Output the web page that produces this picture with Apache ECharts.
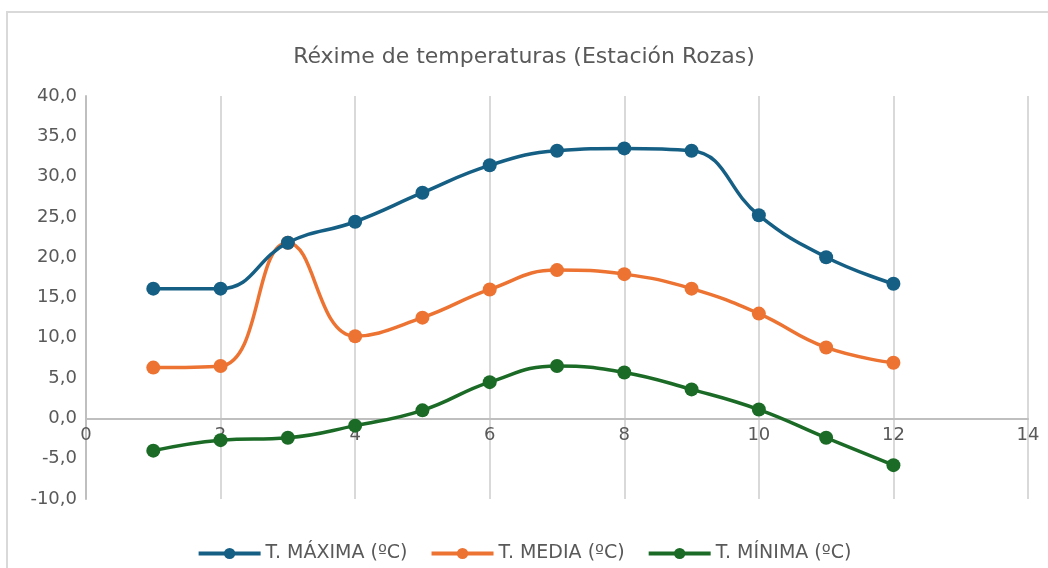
<!DOCTYPE html>
<html>
<head>
<meta charset="utf-8">
<script src="https://cdn.jsdelivr.net/npm/echarts@6/dist/echarts.min.js"></script>
<style>
  html, body { margin: 0; padding: 0; background: #fff; }
  #chart { width: 1048px; height: 568px; }
</style>
</head>
<body>
<div id="chart"></div>
<script>
// mes (1..12) e temperaturas
const meses = [1, 2, 3, 4, 5, 6, 7, 8, 9, 10, 11, 12];
const tMaxima = [16.1, 16.1, 21.8, 24.4, 28.0, 31.4, 33.2, 33.5, 33.2, 25.2, 20.0, 16.7];
const tMedia = [6.3, 6.5, 21.8, 10.2, 12.5, 16.0, 18.4, 17.9, 16.1, 13.0, 8.8, 6.9];
const tMinima = [-4.0, -2.7, -2.4, -0.9, 1.0, 4.5, 6.5, 5.7, 3.6, 1.1, -2.4, -5.8];
const nomes = ['T. MÁXIMA (ºC)', 'T. MEDIA (ºC)', 'T. MÍNIMA (ºC)'];
const cores = ['#155f85', '#ec7332', '#1b6b27'];

const fonte = '"DejaVu Sans", sans-serif';
const chart = echarts.init(document.getElementById('chart'));

// grid: top 96, bottom 499 -> o eixo X vai sobre o 0 (y -10..40)
const gridTop = 96, gridBottom = 69;
const altGrid = 568 - gridTop - gridBottom;
const offsetZero = -altGrid * 10 / 50;

function pares(vals) {
  return meses.map((m, i) => [m, vals[i]]);
}

function serie(i, vals) {
  return {
    name: nomes[i],
    type: 'line',
    smooth: 0.45,
    data: pares(vals),
    symbol: 'circle',
    symbolSize: 14,
    lineStyle: { width: 3.5, color: cores[i] },
    itemStyle: { color: cores[i] },
    z: 3 - i
  };
}

const option = {
  backgroundColor: '#fff',
  color: cores,
  title: {
    text: 'Réxime de temperaturas (Estación Rozas)',
    left: 'center',
    top: 41,
    textStyle: { fontFamily: fonte, fontSize: 22, fontWeight: 'normal', color: '#595959' }
  },
  legend: {
    bottom: 0,
    left: 'center',
    itemWidth: 62,
    itemHeight: 14,
    itemGap: 22,
    lineStyle: { width: 4 },
    textStyle: { fontFamily: fonte, fontSize: 19, color: '#595959' },
    data: nomes
  },
  grid: { left: 86, right: 20, top: gridTop, bottom: gridBottom, containLabel: false },
  xAxis: {
    type: 'value',
    min: 0,
    max: 14,
    interval: 2,
    offset: offsetZero,
    axisLine: { onZero: false, lineStyle: { color: '#bfbfbf', width: 2 } },
    axisTick: { show: false },
    axisLabel: { fontFamily: fonte, fontSize: 18, color: '#595959', margin: 8 },
    splitLine: { show: true, lineStyle: { color: '#d9d9d9', width: 2 } }
  },
  yAxis: {
    type: 'value',
    min: -10,
    max: 40,
    interval: 5,
    axisLine: { show: true, lineStyle: { color: '#bfbfbf', width: 2 } },
    axisTick: { show: false },
    splitLine: { show: false },
    axisLabel: {
      fontFamily: fonte, fontSize: 18, color: '#595959', margin: 9,
      formatter: v => v.toFixed(1).replace('.', ',')
    }
  },
  graphic: [{
    type: 'rect',
    shape: { x: 7, y: 12, width: 1100, height: 600 },
    style: { fill: 'none', stroke: '#d9d9d9', lineWidth: 2 },
    silent: true,
    z: -10
  }],
  series: [serie(0, tMaxima), serie(1, tMedia), serie(2, tMinima)]
};

chart.setOption(option);
</script>
</body>
</html>
